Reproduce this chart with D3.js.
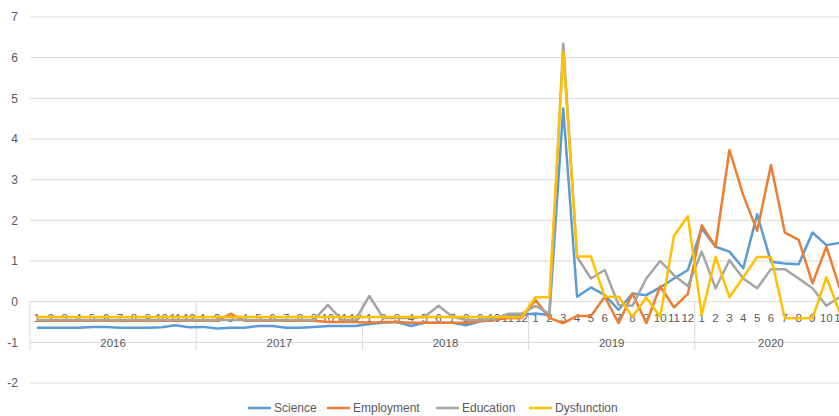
<!DOCTYPE html>
<html>
<head>
<meta charset="utf-8">
<script src="https://cdn.jsdelivr.net/npm/d3@7"></script>
<style>
  body { margin: 0; background: #fff; }
  text { font-family: "Liberation Sans", Arial, sans-serif; fill: #595959; }
</style>
</head>
<body>
<div id="chart"></div>
<script>
// categories
var years = ["2016", "2017", "2018", "2019", "2020"];
var months = ["1","2","3","4","5","6","7","8","9","10","11","12"];
var yTicks = [-2, -1, 0, 1, 2, 3, 4, 5, 6, 7];

// series (monthly, Jan 2016 onwards)
var science = [
  -0.64,-0.64,-0.64,-0.64,-0.62,-0.62,-0.64,-0.64,-0.64,-0.63,-0.58,-0.63,
  -0.62,-0.66,-0.64,-0.64,-0.60,-0.60,-0.64,-0.64,-0.62,-0.60,-0.60,-0.60,
  -0.55,-0.52,-0.50,-0.60,-0.52,-0.52,-0.52,-0.58,-0.48,-0.45,-0.33,-0.32,
  -0.29,-0.33,4.75,0.12,0.35,0.16,-0.20,0.20,0.16,0.35,0.57,0.78,
  1.80,1.35,1.23,0.82,2.15,0.98,0.94,0.92,1.70,1.39,1.45
];
var employment = [
  -0.47,-0.47,-0.47,-0.47,-0.47,-0.47,-0.47,-0.47,-0.47,-0.47,-0.47,-0.47,
  -0.47,-0.47,-0.30,-0.47,-0.47,-0.47,-0.47,-0.47,-0.47,-0.50,-0.50,-0.50,
  -0.52,-0.50,-0.50,-0.52,-0.52,-0.52,-0.52,-0.52,-0.48,-0.45,-0.40,-0.40,
  0.04,-0.40,-0.53,-0.35,-0.35,0.12,-0.53,0.20,-0.53,0.38,-0.14,0.19,
  1.88,1.35,3.73,2.62,1.74,3.36,1.70,1.52,0.45,1.35,0.30
];
var education = [
  -0.45,-0.45,-0.45,-0.45,-0.45,-0.45,-0.45,-0.45,-0.45,-0.45,-0.45,-0.45,
  -0.45,-0.45,-0.45,-0.45,-0.45,-0.45,-0.45,-0.45,-0.45,-0.08,-0.45,-0.45,
  0.14,-0.40,-0.40,-0.40,-0.37,-0.10,-0.37,-0.45,-0.45,-0.42,-0.30,-0.30,
  -0.10,-0.30,6.35,1.10,0.57,0.78,-0.08,-0.10,0.57,1.00,0.65,0.38,
  1.23,0.33,1.02,0.57,0.33,0.80,0.80,0.57,0.33,-0.10,0.12
];
var dysfunction = [
  -0.38,-0.38,-0.38,-0.38,-0.38,-0.38,-0.38,-0.38,-0.38,-0.38,-0.38,-0.38,
  -0.38,-0.38,-0.38,-0.38,-0.38,-0.38,-0.38,-0.38,-0.38,-0.38,-0.38,-0.38,
  -0.38,-0.38,-0.38,-0.38,-0.38,-0.38,-0.38,-0.38,-0.38,-0.38,-0.38,-0.38,
  0.11,0.11,6.15,1.11,1.11,0.12,0.12,-0.37,0.10,-0.37,1.62,2.10,
  -0.32,1.10,0.11,0.60,1.10,1.10,-0.41,-0.41,-0.41,0.60,-0.30
];

var seriesNames = ["Science", "Employment", "Education", "Dysfunction"];
var seriesData = [science, employment, education, dysfunction];
var colors = ["#5B9BD5", "#ED7D31", "#A5A5A5", "#FFC000"];

var w = 839;
var h = 416;
var left = 30;
var monthStep = 13.85;

var categories = [];
years.forEach(function(y) {
  months.forEach(function(m) { categories.push(y + "-" + m); });
});

var x = d3.scaleBand()
  .domain(categories)
  .range([left, left + monthStep * categories.length]);

var y = d3.scaleLinear()
  .domain([-2, 7])
  .range([383, 17]);

function cx(i) { return x(categories[i]) + x.bandwidth() / 2; }

var svg = d3.select("#chart")
  .append("svg")
  .attr("width", w)
  .attr("height", h);

// gridlines
svg.selectAll("line.grid")
  .data(yTicks)
  .enter()
  .append("line")
  .attr("class", "grid")
  .attr("x1", left)
  .attr("x2", w)
  .attr("y1", function(d) { return y(d); })
  .attr("y2", function(d) { return y(d); })
  .attr("stroke", "#D9D9D9")
  .attr("stroke-width", 1);

// y tick labels
svg.selectAll("text.ytick")
  .data(yTicks)
  .enter()
  .append("text")
  .attr("class", "ytick")
  .attr("x", 18)
  .attr("y", function(d) { return y(d); })
  .attr("dy", "0.35em")
  .attr("text-anchor", "end")
  .style("font-size", "12px")
  .text(function(d) { return d; });

// category axis (crosses at 0)
var axisY = y(0);
svg.selectAll("line.sep")
  .data(d3.range(years.length + 1))
  .enter()
  .append("line")
  .attr("class", "sep")
  .attr("x1", function(i) { return left + i * 12 * monthStep; })
  .attr("x2", function(i) { return left + i * 12 * monthStep; })
  .attr("y1", axisY)
  .attr("y2", 350)
  .attr("stroke", "#D9D9D9")
  .attr("stroke-width", 1);

// month labels (the chart is cut off at the right, like the original)
svg.selectAll("text.month")
  .data(categories.filter(function(d) { return x(d) + x.bandwidth() / 2 < w + 2; }))
  .enter()
  .append("text")
  .attr("class", "month")
  .attr("x", function(d) { return x(d) + x.bandwidth() / 2; })
  .attr("y", 318)
  .attr("dy", "0.35em")
  .attr("text-anchor", "middle")
  .style("font-size", "11.5px")
  .text(function(d) { return d.split("-")[1]; });

svg.selectAll("text.year")
  .data(years)
  .enter()
  .append("text")
  .attr("class", "year")
  .attr("x", function(d, i) {
    var a = left + i * 12 * monthStep;
    var b = Math.min(a + 12 * monthStep, w);
    return (a + b) / 2 + (b === w ? 4 : 0);
  })
  .attr("y", 343)
  .attr("dy", "0.35em")
  .attr("text-anchor", "middle")
  .style("font-size", "11.5px")
  .text(function(d) { return d; });

// lines
var line = d3.line()
  .x(function(d, i) { return cx(i); })
  .y(function(d) { return y(d); });

svg.selectAll("path.series")
  .data(seriesData)
  .enter()
  .append("path")
  .attr("class", "series")
  .attr("d", line)
  .attr("fill", "none")
  .attr("stroke", function(d, i) { return colors[i]; })
  .attr("stroke-width", 2.5)
  .attr("stroke-linejoin", "round");

// legend
var legendX = [248, 327, 436, 529];
var legend = svg.selectAll("g.legend")
  .data(seriesNames)
  .enter()
  .append("g")
  .attr("class", "legend")
  .attr("transform", function(d, i) { return "translate(" + legendX[i] + ",408)"; });

legend.append("line")
  .attr("x1", 0)
  .attr("x2", 23)
  .attr("stroke", function(d, i) { return colors[i]; })
  .attr("stroke-width", 2.5);

legend.append("text")
  .attr("x", 26)
  .attr("dy", "0.35em")
  .style("font-size", "12px")
  .text(function(d) { return d; });
</script>
</body>
</html>
